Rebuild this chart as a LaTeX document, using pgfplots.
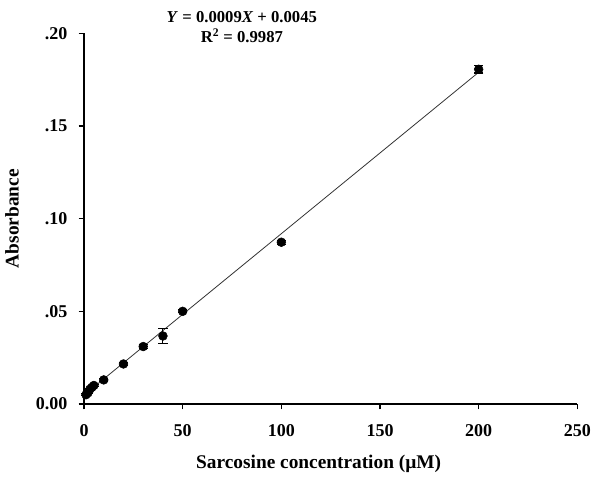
\documentclass[border=0pt]{standalone}
\usepackage{fontspec}
\setmainfont{Liberation Serif}
\usepackage{pgfplots}
\pgfplotsset{compat=1.18}
\begin{document}
\begin{tikzpicture}
\useasboundingbox (-63pt,-60.75pt) rectangle (391.5pt,303pt);
\begin{axis}[
  scale only axis,
  width=370pt, height=278pt,
  xmin=0, xmax=250, ymin=0, ymax=0.2,
  axis lines*=left,
  axis line style={line width=1.1pt},
  tick style={line width=0.9pt, black},
  tick align=outside,
  major tick length=4pt,
  xtick={0,50,100,150,200,250},
  ytick={0,0.05,0.1,0.15,0.2},
  yticklabels={0.00,.05,.10,.15,.20},
  scaled y ticks=false,
  /pgf/number format/assume math mode=true,
  tick label style={font=\fontsize{13.5}{15}\selectfont\bfseries},
  xticklabel style={yshift=-8pt},
  yticklabel style={xshift=-5pt},
  xlabel={Sarcosine concentration (µM)},
  ylabel={Absorbance},
  label style={font=\fontsize{14.5}{16}\selectfont\bfseries},
  xlabel style={at={(axis description cs:0.5,0)}, anchor=center, yshift=-45pt, xshift=-9pt},
  ylabel style={at={(axis description cs:0,0.5)}, anchor=center, yshift=54pt},
  clip=false,
]
\addplot[black!80, line width=0.6pt] coordinates {(0,0.0048) (200,0.1790)};
\addplot[black, only marks, mark=*, mark size=3.3pt,
  error bars/.cd, y dir=both, y explicit, error bar style={line width=0.8pt}, error mark options={rotate=90, mark size=3.5pt, line width=0.8pt}]
  coordinates {
  (1,0.0050) +- (0,0.0005)
  (2,0.0060) +- (0,0.0005)
  (3,0.0080) +- (0,0.0005)
  (4,0.0090) +- (0,0.0005)
  (5,0.0100) +- (0,0.0005)
  (10,0.0130) +- (0,0.0008)
  (20,0.0216) +- (0,0.0008)
  (30,0.0310) +- (0,0.0010)
  (40,0.0367) +- (0,0.0040)
  (50,0.0500) +- (0,0.0008)
  (100,0.0873) +- (0,0.0010)
  (200,0.1806) +- (0,0.0020)
  };
\node[font=\fontsize{12.5}{15}\selectfont\bfseries, align=center, inner sep=0pt] at (axis cs:80,0.2035)
  {\textit{Y} = 0.0009\textit{X} + 0.0045\\R\textsuperscript{2} = 0.9987};
\end{axis}
\end{tikzpicture}
\end{document}
